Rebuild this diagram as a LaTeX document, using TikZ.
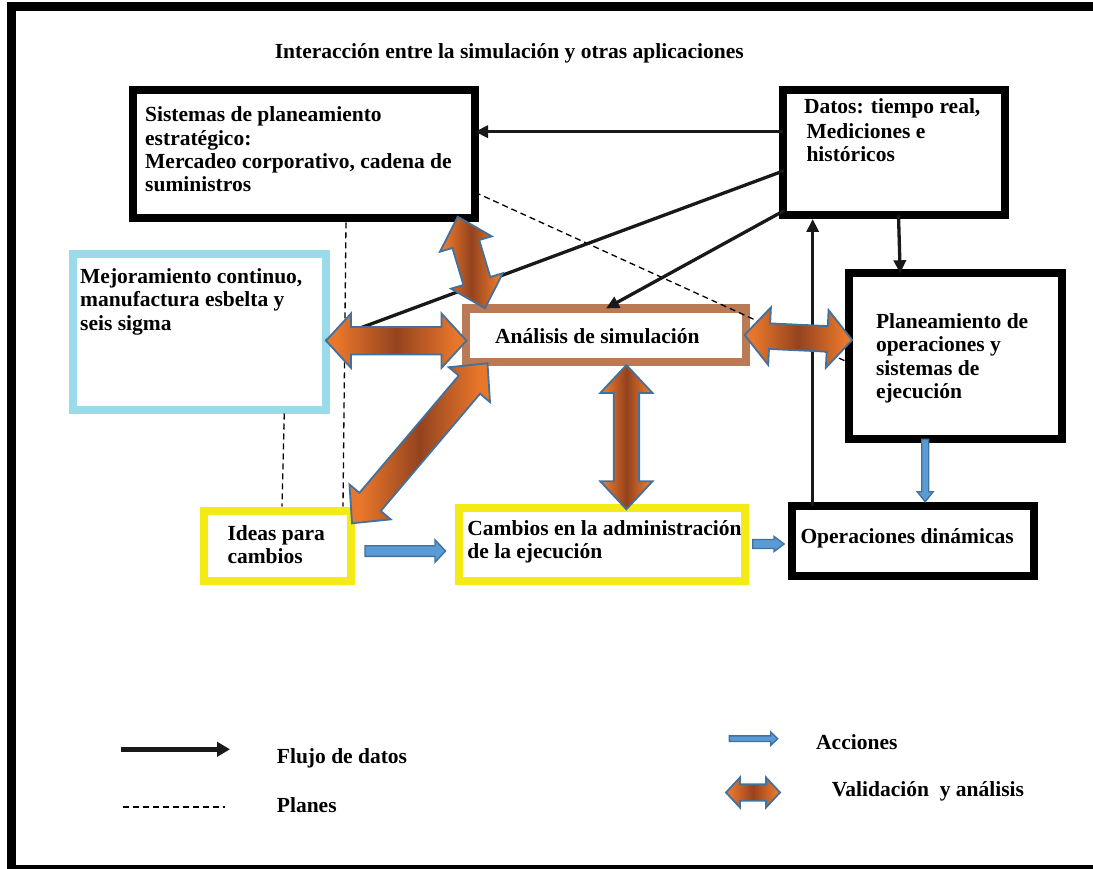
\documentclass[tikz,border=0pt]{standalone}
\usepackage{fontspec}
\setmainfont{Liberation Serif}
\usetikzlibrary{calc,arrows.meta}

\definecolor{valorange}{HTML}{E8762B}
\definecolor{valbrown}{HTML}{94431F}
\definecolor{arrowedge}{HTML}{41719C}
\definecolor{actionblue}{HTML}{5B9BD5}
\definecolor{skyborder}{HTML}{9ADAEA}
\definecolor{clayborder}{HTML}{B97A55}
\definecolor{ideayellow}{HTML}{F3EA16}

% orange ends, dark brown middle, along the arrow's length
\pgfdeclarehorizontalshading{valshade}{100bp}{color(0bp)=(valorange); color(29bp)=(valorange);
  color(50bp)=(valbrown); color(71bp)=(valorange); color(100bp)=(valorange)}

% strut that fixes the height of the first text line
\newcommand\tstrut{\rule{0pt}{22pt}}

% direction, length and start of a fat arrow from #1 to #2 (kept global)
\newcommand\arrsetup[2]{%
  \path let \p1=#1, \p2=#2 in \pgfextra{%
    \pgfmathsetmacro\arrang{atan2((\y2)-(\y1),(\x2)-(\x1))}\global\let\arrang\arrang
    \pgfmathsetmacro\arrlen{veclen((\x2)-(\x1),(\y2)-(\y1))}\global\let\arrlen\arrlen
    \xdef\arrx{\x1}\xdef\arry{\y1}};}

% double-headed validation arrow: #3 half shaft, #4 half head, #5 head length
\newcommand\valarrow[5]{%
  \arrsetup{#1}{#2}%
  \begin{scope}[shift={(\arrx,\arry)}, rotate=\arrang, x=1pt, y=1pt]
    \path[valshape] (0,0) -- (#5,#4) -- (#5,#3) -- (\arrlen-#5,#3) -- (\arrlen-#5,#4)
      -- (\arrlen,0) -- (\arrlen-#5,-#4) -- (\arrlen-#5,-#3) -- (#5,-#3) -- (#5,-#4) -- cycle;
  \end{scope}}

% single-headed action arrow: #3 half shaft, #4 half head, #5 head length
\newcommand\actarrow[5]{%
  \arrsetup{#1}{#2}%
  \begin{scope}[shift={(\arrx,\arry)}, rotate=\arrang, x=1pt, y=1pt]
    \path[actshape] (0,#3) -- (\arrlen-#5,#3) -- (\arrlen-#5,#4) -- (\arrlen,0)
      -- (\arrlen-#5,-#4) -- (\arrlen-#5,-#3) -- (0,-#3) -- cycle;
  \end{scope}}

\tikzset{
  box/.style={draw, fill=white, inner sep=0pt, outer sep=0pt, anchor=north west, line width=8pt},
  blackbox/.style={box, draw=black},
  skybox/.style={box, draw=skyborder},
  claybox/.style={box, draw=clayborder},
  ideabox/.style={box, draw=ideayellow},
  bodyfont/.style={font=\bfseries\fontsize{21.5}{23.3}\selectfont},
  boxtext/.style={bodyfont, anchor=north west, inner sep=0pt, align=left},
  legtext/.style={bodyfont, anchor=base west, inner sep=0pt},
  dataflow/.style={draw=black!90, line width=3.3pt, -{Triangle[length=13pt,width=12pt]}},
  dataline/.style={draw=black!90, line width=3.3pt},
  planline/.style={draw=black, line width=1.3pt, dash pattern=on 6pt off 4pt},
  valshape/.style={draw=arrowedge, line width=1.8pt, line join=miter,
    shading=valshade, shading angle=0},
  actshape/.style={draw=arrowedge, line width=1.4pt, fill=actionblue},
}

\begin{document}
\begin{tikzpicture}[x=1pt, y=-1pt]
\useasboundingbox (0,0) rectangle (1093,869);

% outer frame
\draw[line width=8.4pt] (11.5,6.7) rectangle (1101,869.5);

% title
\node[bodyfont, anchor=base, inner sep=0pt] (title) at (509.3,58.3)
  {Interacción entre la simulación y otras aplicaciones};

% boxes
\node[blackbox, minimum width=342, minimum height=128.3] (sist) at (133,90) {};
\node[blackbox, minimum width=221.6, minimum height=124.8] (datos) at (783.4,90.5) {};
\node[blackbox, minimum width=213.4, minimum height=165.5] (plan) at (849,273.3) {};
\node[blackbox, minimum width=241.5, minimum height=70] (oper) at (792,505.5) {};
\node[claybox, minimum width=280, minimum height=53] (anal) at (466,308.5) {};
\node[skybox, minimum width=253.5, minimum height=155] (mejo) at (72.5,254.5) {};
\node[ideabox, minimum width=147, minimum height=70.7] (ideas) at (204,510.5) {};
\node[ideabox, minimum width=286, minimum height=73.4] (camb) at (459,507.8) {};

% box texts
\node[boxtext] (sistT) at ($(sist.north west)+(12,9.7)$)
  {\tstrut Sistemas de planeamiento\\estratégico:\\Mercadeo corporativo, cadena de\\suministros};
\node[boxtext] (datosT) at ($(datos.north west)+(20.4,0.8)$)
  {\tstrut Datos: tiempo real,\\[1.7pt]\hspace*{2.5pt}Mediciones e\\\hspace*{2.5pt}históricos};
\node[boxtext] (planT) at ($(plan.north west)+(26.8,33)$)
  {\tstrut Planeamiento de\\operaciones y\\sistemas de\\ejecución};
\node[boxtext] (operT) at ($(oper.north west)+(8.3,15.8)$) {\tstrut Operaciones dinámicas};
\node[boxtext] (analT) at ($(anal.north west)+(29,12.8)$) {\tstrut Análisis de simulación};
\node[boxtext] (mejoT) at ($(mejo.north west)+(7.5,6.8)$)
  {\tstrut Mejoramiento continuo,\\manufactura esbelta y\\seis sigma};
\node[boxtext] (ideasT) at ($(ideas.north west)+(23.3,7.5)$) {\tstrut Ideas para\\cambios};
\node[boxtext] (cambT) at ($(camb.north west)+(8.2,5.2)$)
  {\tstrut Cambios en la administración\\de la ejecución};

% plans (dashed)
\draw[planline] ($(sist.south)+(42,4)$) -- ($(ideas.north)+(65.5,-4)$);
\draw[planline] ($(mejo.south)+(85,4)$) -- ($(ideas.north)+(4.5,-4)$);
\draw[planline] ($(sist.south east)+(0,-26)$) -- ($(plan.west)+(1.4,7.3)$);

% data flow
\draw[dataflow] ($(datos.west)+(0,-21.2)$) -- ($(sist.east)+(0,-22.45)$);
\draw[dataline] ($(datos.west)+(0.6,17.8)$) -- ($(mejo.east)+(0,8.7)$);
\draw[dataflow] ($(datos.south west)+(0.6,-4.6)$) -- (anal.north);
\draw[dataflow] ($(datos.south)+(4.3,0)$) -- ($(plan.north west)+(51.2,0)$);
\draw[dataflow] ($(oper.north west)+(20.7,0)$) -- ($(datos.south west)+(29.3,3.7)$);

% validation and analysis
\valarrow{($(sist.south east)+(-17.3,-1.6)$)}{($(anal.north west)+(19,-0.2)$)}{14}{27}{28.5}
\valarrow{($(mejo.east)+(0,8.7)$)}{($(anal.west)+(0.5,5.7)$)}{13.8}{27.2}{25}
\valarrow{($(anal.south west)+(21.5,1.8)$)}{($(ideas.north east)+(1,12.8)$)}{14}{27}{28}
\valarrow{($(anal.south)+(20.4,3.5)$)}{($(camb.north)+(24.4,1.5)$)}{12.7}{26.1}{28}
\valarrow{($(anal.east)+(-1.4,0)$)}{($(plan.west)+(3.2,-16)$)}{12.8}{28.8}{25}

% actions
\actarrow{($(ideas.east)+(14,5.15)$)}{($(camb.west)+(-13.5,6.5)$)}{5.3}{11.2}{10.5}
\actarrow{($(camb.east)+(7.7,-0.5)$)}{($(oper.west)+(-7.9,3.5)$)}{4.5}{7.5}{10}
\actarrow{($(plan.south west)+(76.2,0.5)$)}{($(oper.north west)+(133.2,-3.8)$)}{3.5}{8}{10}

% legend
\coordinate (flowA) at (120.7,749.3);
\coordinate (flowB) at (230,749.3);
\draw[draw=black!90, line width=5.5pt, -{Triangle[length=13pt,width=14.3pt]}] (flowA) -- (flowB);
\node[legtext] (flowT) at (276.7,763.3) {Flujo de datos};
\coordinate (planA) at (122.7,807.3);
\coordinate (planB) at (225,807.3);
\draw[planline, line width=1.8pt] (planA) -- (planB);
\node[legtext] (planT) at (276.7,812.7) {Planes};
\coordinate (actA) at (729.3,738.7);
\coordinate (actB) at (777.7,738.7);
\actarrow{(actA)}{(actB)}{2.8}{6.7}{7}
\node[legtext] (actT) at (816,749) {Acciones};
\coordinate (valA) at (726,792.5);
\coordinate (valB) at (780,792.5);
\valarrow{(valA)}{(valB)}{8.3}{15}{14}
\node[legtext] (valT) at (831.7,796.7) {Validación\ \ y análisis};
\end{tikzpicture}
\end{document}
